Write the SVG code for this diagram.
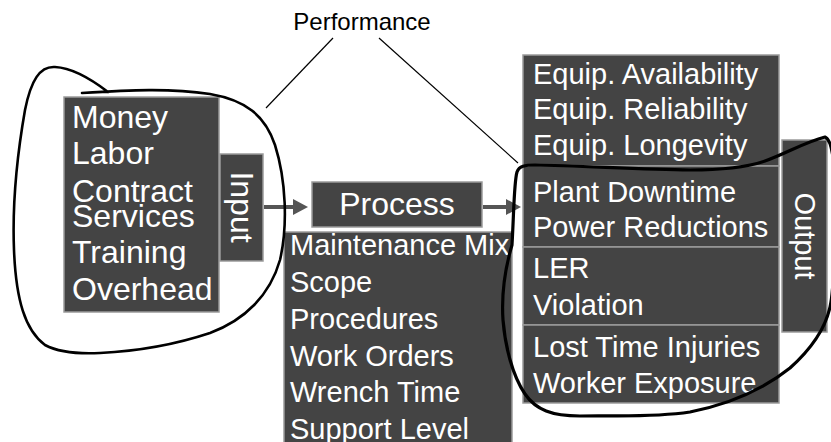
<svg xmlns="http://www.w3.org/2000/svg" width="831" height="442" viewBox="0 0 831 442">
<defs>
<style>
.box{fill:#444444;stroke:#9a9a9a;stroke-width:1.5}
.t{font-family:"Liberation Sans",Arial,sans-serif;fill:#ffffff}
.t32{font-size:32px}
.t29{font-size:29px}
.perf{font-family:"Liberation Sans",Arial,sans-serif;font-size:24px;fill:#000}
.thin{stroke:#000;stroke-width:1.2;fill:none}
.loop{stroke:#000;fill:none;stroke-linecap:round;stroke-linejoin:round}
.arr{stroke:#555555;stroke-width:4;fill:none}
</style>
<marker id="ah" markerUnits="userSpaceOnUse" markerWidth="16" markerHeight="18" refX="1" refY="8" orient="auto">
<path d="M0,0 L15,8 L0,16 Z" fill="#555555"/>
</marker>
</defs>
<rect width="831" height="442" fill="#ffffff"/>

<g id="performance">
<text class="perf" x="362" y="30" text-anchor="middle">Performance</text>
</g>

<g id="input-list">
<rect class="box" x="64" y="97" width="155" height="215"/>
<text class="t t32" x="72" y="128">Money</text>
<text class="t t32" x="72" y="164">Labor</text>
<text class="t t32" x="72" y="202">Contract</text>
<text class="t t32" x="72" y="227">Services</text>
<text class="t t32" x="72" y="263">Training</text>
<text class="t t32" x="72" y="300">Overhead</text>
</g>

<g id="input">
<rect class="box" x="220" y="154" width="43" height="107"/>
<text class="t t32" transform="translate(231,207) rotate(90)" text-anchor="middle">Input</text>
</g>

<g id="process">
<rect class="box" x="312" y="182" width="170" height="45"/>
<text class="t t32" x="397" y="215" text-anchor="middle">Process</text>
</g>

<g id="process-list">
<rect class="box" x="284" y="232" width="228" height="220"/>
<text class="t t29" x="290" y="255">Maintenance Mix</text>
<text class="t t29" x="290" y="292">Scope</text>
<text class="t t29" x="290" y="329">Procedures</text>
<text class="t t29" x="290" y="366">Work Orders</text>
<text class="t t29" x="290" y="402">Wrench Time</text>
<text class="t t29" x="290" y="439">Support Level</text>
</g>

<g id="output-equipment">
<rect class="box" x="523" y="55" width="256" height="111"/>
<text class="t t29" x="533" y="84">Equip. Availability</text>
<text class="t t29" x="533" y="119">Equip. Reliability</text>
<text class="t t29" x="533" y="155">Equip. Longevity</text>
</g>

<g id="output-plant">
<rect class="box" x="523" y="166" width="256" height="81"/>
<text class="t t29" x="533" y="202">Plant Downtime</text>
<text class="t t29" x="533" y="237">Power Reductions</text>
</g>

<g id="output-regulatory">
<rect class="box" x="523" y="247" width="256" height="78"/>
<text class="t t29" x="533" y="278">LER</text>
<text class="t t29" x="533" y="315">Violation</text>
</g>

<g id="output-safety">
<rect class="box" x="523" y="325" width="256" height="78"/>
<text class="t t29" x="533" y="357">Lost Time Injuries</text>
<text class="t t29" x="533" y="393">Worker Exposure</text>
</g>

<g id="output">
<rect class="box" x="782" y="140" width="45" height="192"/>
<text class="t t29" transform="translate(795,236) rotate(90)" text-anchor="middle">Output</text>
</g>

<g id="connectors">
<path class="arr" d="M264,207 L294,207" marker-end="url(#ah)"/>
<path class="arr" d="M483,207 L507,207" marker-end="url(#ah)"/>
<path class="thin" d="M333,38 L266,108"/>
<path class="thin" d="M379,38 L518,163"/>
</g>

<g id="input-loop">
<path class="loop" stroke-width="2.6" d="M108,92 C95,82 75,68 55,67 C40,66 31,80 25,110 C18,150 12,200 14,250 C16,300 25,330 45,345 C60,353 80,354 100,353 C140,351 180,343 210,333 C245,320 270,295 280,260 C288,225 286,180 275,145 C265,115 245,100 210,94 C170,88 130,90 82,93"/>
</g>

<g id="output-loop">
<path class="loop" stroke-width="3.2" d="M512,245 C514,210 514,182 517,172 C519,166 525,165 535,165 C580,166 640,169 690,170 C720,170 745,168 765,161 C785,154 805,142 825,137 C832,140 835,160 835,200 C835,260 834,290 830,307 C825,330 810,350 790,368 C765,388 730,404 690,412 C650,418 610,415 580,416 C552,416 536,410 525,394 C512,375 505,345 503,320 C501,290 507,262 512,245"/>
</g>
</svg>
